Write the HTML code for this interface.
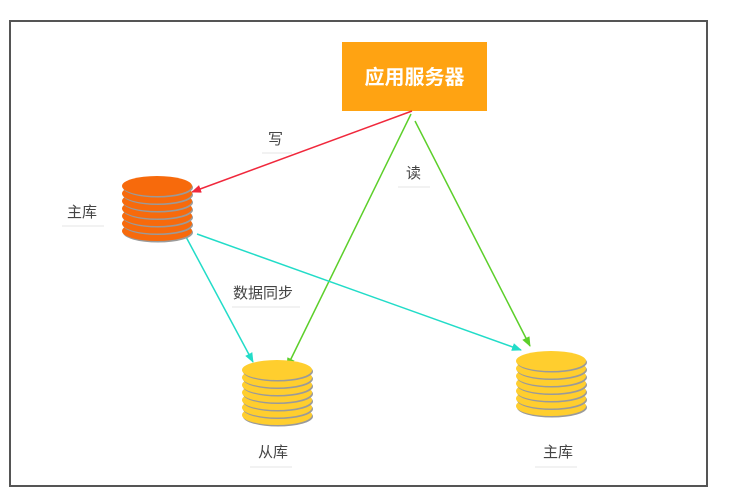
<!DOCTYPE html>
<html><head><meta charset="utf-8"><style>
body{margin:0;background:#fff;}
svg{display:block;font-family:"Liberation Sans","Noto Sans CJK SC",sans-serif;}
</style></head><body>
<svg width="736" height="503" viewBox="0 0 736 503">
<defs>
<marker id="ar" markerWidth="10" markerHeight="8" refX="9" refY="4" orient="auto" markerUnits="userSpaceOnUse"><path d="M0,0 L10,4 L0,8 z" fill="#f0283c"/></marker>
<marker id="ag" markerWidth="10" markerHeight="8" refX="9" refY="4" orient="auto" markerUnits="userSpaceOnUse"><path d="M0,0 L10,4 L0,8 z" fill="#5ccf2a"/></marker>
<marker id="ac" markerWidth="10" markerHeight="8" refX="9" refY="4" orient="auto" markerUnits="userSpaceOnUse"><path d="M0,0 L10,4 L0,8 z" fill="#22dcc8"/></marker>
</defs>
<rect x="10" y="21" width="697" height="465" fill="#fff" stroke="#555" stroke-width="2"/>
<rect x="342" y="42" width="145" height="69" fill="#FFA312"/>
<text x="414.5" y="84" text-anchor="middle" font-size="20" font-weight="bold" fill="#fff">应用服务器</text>
<line x1="412" y1="111" x2="192" y2="192" stroke="#f0283c" stroke-width="1.5" marker-end="url(#ar)"/>
<line x1="411" y1="114" x2="287" y2="367" stroke="#5ccf2a" stroke-width="1.5" marker-end="url(#ag)"/>
<line x1="415" y1="121" x2="530" y2="346" stroke="#5ccf2a" stroke-width="1.5" marker-end="url(#ag)"/>
<line x1="185" y1="235" x2="253" y2="362" stroke="#22dcc8" stroke-width="1.5" marker-end="url(#ac)"/>
<line x1="197" y1="234" x2="521" y2="350" stroke="#22dcc8" stroke-width="1.5" marker-end="url(#ac)"/>
<g font-size="15" fill="#444">
<text x="268" y="144">写</text>
<text x="406" y="178">读</text>
<text x="233" y="298">数据同步</text>
<text x="67" y="217">主库</text>
<text x="258" y="457">从库</text>
<text x="543" y="457">主库</text>
</g>
<g stroke="#f2f2f2" stroke-width="2">
<line x1="262" y1="153" x2="292" y2="153"/><line x1="398" y1="187" x2="430" y2="187"/>
<line x1="232" y1="307" x2="300" y2="307"/><line x1="62" y1="226" x2="104" y2="226"/>
<line x1="250" y1="467" x2="292" y2="467"/><line x1="535" y1="467" x2="577" y2="467"/>
</g>
<!-- orange cylinder: cy 186 + k*7.5 -->
<g fill="#F76A0C">
<ellipse cx="158" cy="232.5" rx="35" ry="10" fill="#9a9a9a"/><ellipse cx="157" cy="231" rx="35" ry="10"/>
<ellipse cx="158" cy="225" rx="35" ry="10" fill="#9a9a9a"/><ellipse cx="157" cy="223.5" rx="35" ry="10"/>
<ellipse cx="158" cy="217.5" rx="35" ry="10" fill="#9a9a9a"/><ellipse cx="157" cy="216" rx="35" ry="10"/>
<ellipse cx="158" cy="210" rx="35" ry="10" fill="#9a9a9a"/><ellipse cx="157" cy="208.5" rx="35" ry="10"/>
<ellipse cx="158" cy="202.5" rx="35" ry="10" fill="#9a9a9a"/><ellipse cx="157" cy="201" rx="35" ry="10"/>
<ellipse cx="158" cy="195" rx="35" ry="10" fill="#9a9a9a"/><ellipse cx="157" cy="193.5" rx="35" ry="10"/>
<ellipse cx="158" cy="187.5" rx="35" ry="10" fill="#9a9a9a"/><ellipse cx="157" cy="186" rx="35" ry="10"/>
</g>
<!-- left yellow: cy 370 -->
<g fill="#FFCE2E">
<ellipse cx="278" cy="416.5" rx="35" ry="10" fill="#9a9a9a"/><ellipse cx="277" cy="415" rx="35" ry="10"/>
<ellipse cx="278" cy="409" rx="35" ry="10" fill="#9a9a9a"/><ellipse cx="277" cy="407.5" rx="35" ry="10"/>
<ellipse cx="278" cy="401.5" rx="35" ry="10" fill="#9a9a9a"/><ellipse cx="277" cy="400" rx="35" ry="10"/>
<ellipse cx="278" cy="394" rx="35" ry="10" fill="#9a9a9a"/><ellipse cx="277" cy="392.5" rx="35" ry="10"/>
<ellipse cx="278" cy="386.5" rx="35" ry="10" fill="#9a9a9a"/><ellipse cx="277" cy="385" rx="35" ry="10"/>
<ellipse cx="278" cy="379" rx="35" ry="10" fill="#9a9a9a"/><ellipse cx="277" cy="377.5" rx="35" ry="10"/>
<ellipse cx="278" cy="371.5" rx="35" ry="10" fill="#9a9a9a"/><ellipse cx="277" cy="370" rx="35" ry="10"/>
</g>
<!-- right yellow: cy 361 -->
<g fill="#FFCE2E">
<ellipse cx="552" cy="407.5" rx="35" ry="10" fill="#9a9a9a"/><ellipse cx="551" cy="406" rx="35" ry="10"/>
<ellipse cx="552" cy="400" rx="35" ry="10" fill="#9a9a9a"/><ellipse cx="551" cy="398.5" rx="35" ry="10"/>
<ellipse cx="552" cy="392.5" rx="35" ry="10" fill="#9a9a9a"/><ellipse cx="551" cy="391" rx="35" ry="10"/>
<ellipse cx="552" cy="385" rx="35" ry="10" fill="#9a9a9a"/><ellipse cx="551" cy="383.5" rx="35" ry="10"/>
<ellipse cx="552" cy="377.5" rx="35" ry="10" fill="#9a9a9a"/><ellipse cx="551" cy="376" rx="35" ry="10"/>
<ellipse cx="552" cy="370" rx="35" ry="10" fill="#9a9a9a"/><ellipse cx="551" cy="368.5" rx="35" ry="10"/>
<ellipse cx="552" cy="362.5" rx="35" ry="10" fill="#9a9a9a"/><ellipse cx="551" cy="361" rx="35" ry="10"/>
</g>
</svg>
</body></html>
